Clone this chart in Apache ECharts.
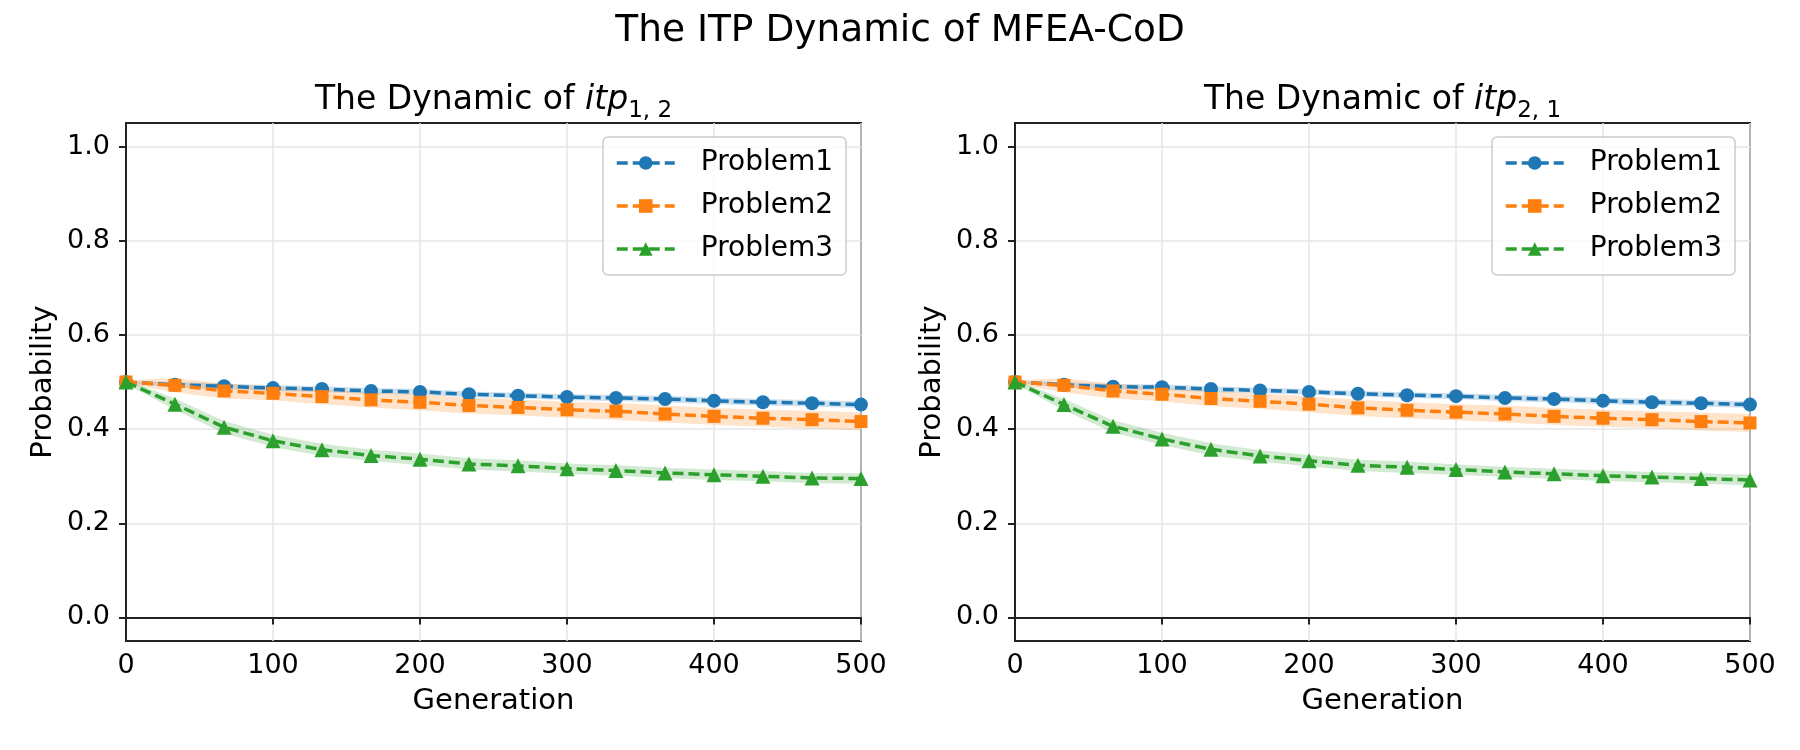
<!DOCTYPE html>
<html>
<head>
<meta charset="utf-8">
<script src="https://cdn.jsdelivr.net/npm/echarts@6/dist/echarts.min.js"></script>
<style>
  html, body { margin: 0; padding: 0; background: #fff; }
  #chart { width: 1800px; height: 750px; }
</style>
</head>
<body>
<div id="chart"></div>
<script>
const FONT = "DejaVu Sans";

// generations where the markers sit
const gens = [0, 33.3, 66.7, 100, 133.3, 166.7, 200, 233.3, 266.7, 300, 333.3, 366.7, 400, 433.3, 466.7, 500];
const yTicks = [0.0, 0.2, 0.4, 0.6, 0.8, 1.0];
const problems = ["Problem1", "Problem2", "Problem3"];

// left panel: itp_{1,2}
const left1 = [0.500, 0.494, 0.491, 0.487, 0.485, 0.481, 0.479, 0.474, 0.471, 0.468, 0.466, 0.464, 0.460, 0.457, 0.455, 0.452];
const left2 = [0.500, 0.493, 0.481, 0.476, 0.469, 0.462, 0.457, 0.450, 0.446, 0.441, 0.438, 0.432, 0.427, 0.423, 0.420, 0.416];
const left3 = [0.500, 0.453, 0.404, 0.375, 0.356, 0.344, 0.336, 0.326, 0.322, 0.316, 0.312, 0.307, 0.303, 0.300, 0.296, 0.295];
// right panel: itp_{2,1}
const right1 = [0.500, 0.494, 0.490, 0.489, 0.485, 0.482, 0.479, 0.475, 0.472, 0.470, 0.466, 0.464, 0.460, 0.457, 0.455, 0.452];
const right2 = [0.500, 0.493, 0.481, 0.474, 0.465, 0.459, 0.453, 0.445, 0.440, 0.436, 0.432, 0.427, 0.423, 0.420, 0.416, 0.413];
const right3 = [0.500, 0.452, 0.406, 0.379, 0.357, 0.343, 0.333, 0.323, 0.319, 0.314, 0.309, 0.305, 0.301, 0.298, 0.295, 0.292];

// spread (std) around each mean
const sd1 = [0.002, 0.006, 0.006, 0.006, 0.006, 0.006, 0.006, 0.006, 0.006, 0.006, 0.007, 0.007, 0.007, 0.007, 0.007, 0.007];
const sd2 = [0.004, 0.015, 0.016, 0.015, 0.016, 0.016, 0.017, 0.017, 0.017, 0.017, 0.018, 0.018, 0.018, 0.018, 0.019, 0.019];
const sd3 = [0.004, 0.012, 0.013, 0.013, 0.013, 0.012, 0.012, 0.012, 0.012, 0.011, 0.011, 0.011, 0.011, 0.011, 0.011, 0.011];

const colors = ["#1f77b4", "#ff7f0e", "#2ca02c"];
const symbols = ["circle", "rect", "triangle"];
const symbolSizes = [14, 13, 15];

function pairs(ys) {
  return gens.map((g, i) => [g, ys[i]]);
}

function lineSeries(idx, k, ys) {
  return {
    name: problems[k],
    type: "line",
    xAxisIndex: idx,
    yAxisIndex: idx,
    data: pairs(ys),
    symbol: symbols[k],
    symbolSize: symbolSizes[k],
    showAllSymbol: true,
    color: colors[k],
    itemStyle: { color: colors[k] },
    lineStyle: { color: colors[k], width: 3.5, type: [11, 5] },
    z: 3 + k,
    animation: false
  };
}

function bandSeries(idx, k, ys, sd) {
  return {
    name: problems[k] + " band",
    type: "custom",
    xAxisIndex: idx,
    yAxisIndex: idx,
    silent: true,
    z: 1,
    data: [[0, ys[0]]],
    renderItem: function (params, api) {
      const up = gens.map((g, i) => api.coord([g, ys[i] + sd[i]]));
      const lo = gens.map((g, i) => api.coord([g, ys[i] - sd[i]])).reverse();
      return {
        type: "polygon",
        shape: { points: up.concat(lo) },
        style: { fill: colors[k], opacity: 0.22 }
      };
    },
    animation: false
  };
}

const grids = [
  { left: 126, width: 735, top: 123, height: 518 },
  { left: 1015, width: 735, top: 123, height: 518 }
];

function xAxis(idx) {
  return {
    type: "value",
    gridIndex: idx,
    min: 0,
    max: 500,
    interval: 100,
    name: "Generation",
    nameLocation: "middle",
    nameGap: 46,
    nameTextStyle: { fontSize: 29, color: "#000", fontFamily: FONT },
    axisLine: { show: true, lineStyle: { color: "#222", width: 2 } },
    axisTick: { show: true, length: 7, lineStyle: { color: "#222", width: 2 } },
    axisLabel: { fontSize: 27, color: "#000", fontFamily: FONT, margin: 11 },
    splitLine: { show: true, lineStyle: { color: "#e6e6e6", width: 1.5 } }
  };
}

function yAxis(idx) {
  return {
    type: "value",
    gridIndex: idx,
    min: -0.05,
    max: 1.05,
    name: "Probability",
    nameLocation: "middle",
    nameRotate: 90,
    nameGap: 68,
    nameTextStyle: { fontSize: 29, color: "#000", fontFamily: FONT },
    axisLine: { show: true, lineStyle: { color: "#222", width: 2 } },
    axisTick: { show: true, length: 7, customValues: yTicks, lineStyle: { color: "#222", width: 2 } },
    axisLabel: {
      fontSize: 27, color: "#000", fontFamily: FONT, margin: 16,
      customValues: yTicks,
      formatter: v => v.toFixed(1)
    },
    splitLine: { show: false }
  };
}

// horizontal grid lines at the y ticks
function yGridSeries(idx) {
  return {
    type: "line",
    xAxisIndex: idx,
    yAxisIndex: idx,
    data: [],
    silent: true,
    z: 0,
    markLine: {
      silent: true,
      z: 0,
      symbol: "none",
      label: { show: false },
      lineStyle: { color: "#e6e6e6", width: 1.5, type: "solid" },
      data: yTicks.map(v => ({ yAxis: v }))
    },
    animation: false
  };
}

function legend(left) {
  return {
    data: problems,
    orient: "vertical",
    left: left,
    top: 137,
    z: 10,
    itemWidth: 58,
    itemHeight: 17,
    itemGap: 15,
    padding: [12, 13, 12, 12],
    backgroundColor: "rgba(255,255,255,0.8)",
    borderColor: "#cccccc",
    borderWidth: 1.5,
    borderRadius: 5,
    selectedMode: false,
    lineStyle: { width: 3.5 },
    textStyle: { fontSize: 28, color: "#000", fontFamily: FONT, lineHeight: 28, padding: [0, 0, 0, 21] }
  };
}

const chart = echarts.init(document.getElementById("chart"), null, { renderer: "canvas" });

chart.setOption({
  backgroundColor: "#fff",
  animation: false,
  textStyle: { fontFamily: FONT },
  grid: grids.map(g => Object.assign({
    show: true, borderColor: "#222", borderWidth: 2, backgroundColor: "transparent"
  }, g)),
  xAxis: [xAxis(0), xAxis(1)],
  yAxis: [yAxis(0), yAxis(1)],
  legend: [legend(603), legend(1492)],
  graphic: [
    {
      type: "text", left: "center", top: 12,
      style: { text: "The ITP Dynamic of MFEA-CoD", fontSize: 37.5, fontFamily: FONT, fill: "#000" }
    },
    {
      type: "text", x: 493.5, y: 100,
      style: {
        text: "The Dynamic of {it|itp}{sub|1, 2}",
        fontSize: 33, fontFamily: FONT, fill: "#000",
        align: "center", verticalAlign: "middle",
        rich: {
          it: { fontSize: 33, fontStyle: "italic", fontFamily: FONT, fill: "#000" },
          sub: { fontSize: 23, fontFamily: FONT, fill: "#000", padding: [22, 0, 0, 0] }
        }
      }
    },
    {
      type: "text", x: 1382.5, y: 100,
      style: {
        text: "The Dynamic of {it|itp}{sub|2, 1}",
        fontSize: 33, fontFamily: FONT, fill: "#000",
        align: "center", verticalAlign: "middle",
        rich: {
          it: { fontSize: 33, fontStyle: "italic", fontFamily: FONT, fill: "#000" },
          sub: { fontSize: 23, fontFamily: FONT, fill: "#000", padding: [22, 0, 0, 0] }
        }
      }
    }
  ],
  series: [
    yGridSeries(0), yGridSeries(1),
    bandSeries(0, 0, left1, sd1), bandSeries(0, 1, left2, sd2), bandSeries(0, 2, left3, sd3),
    bandSeries(1, 0, right1, sd1), bandSeries(1, 1, right2, sd2), bandSeries(1, 2, right3, sd3),
    lineSeries(0, 0, left1), lineSeries(0, 1, left2), lineSeries(0, 2, left3),
    lineSeries(1, 0, right1), lineSeries(1, 1, right2), lineSeries(1, 2, right3)
  ]
});
</script>
</body>
</html>
